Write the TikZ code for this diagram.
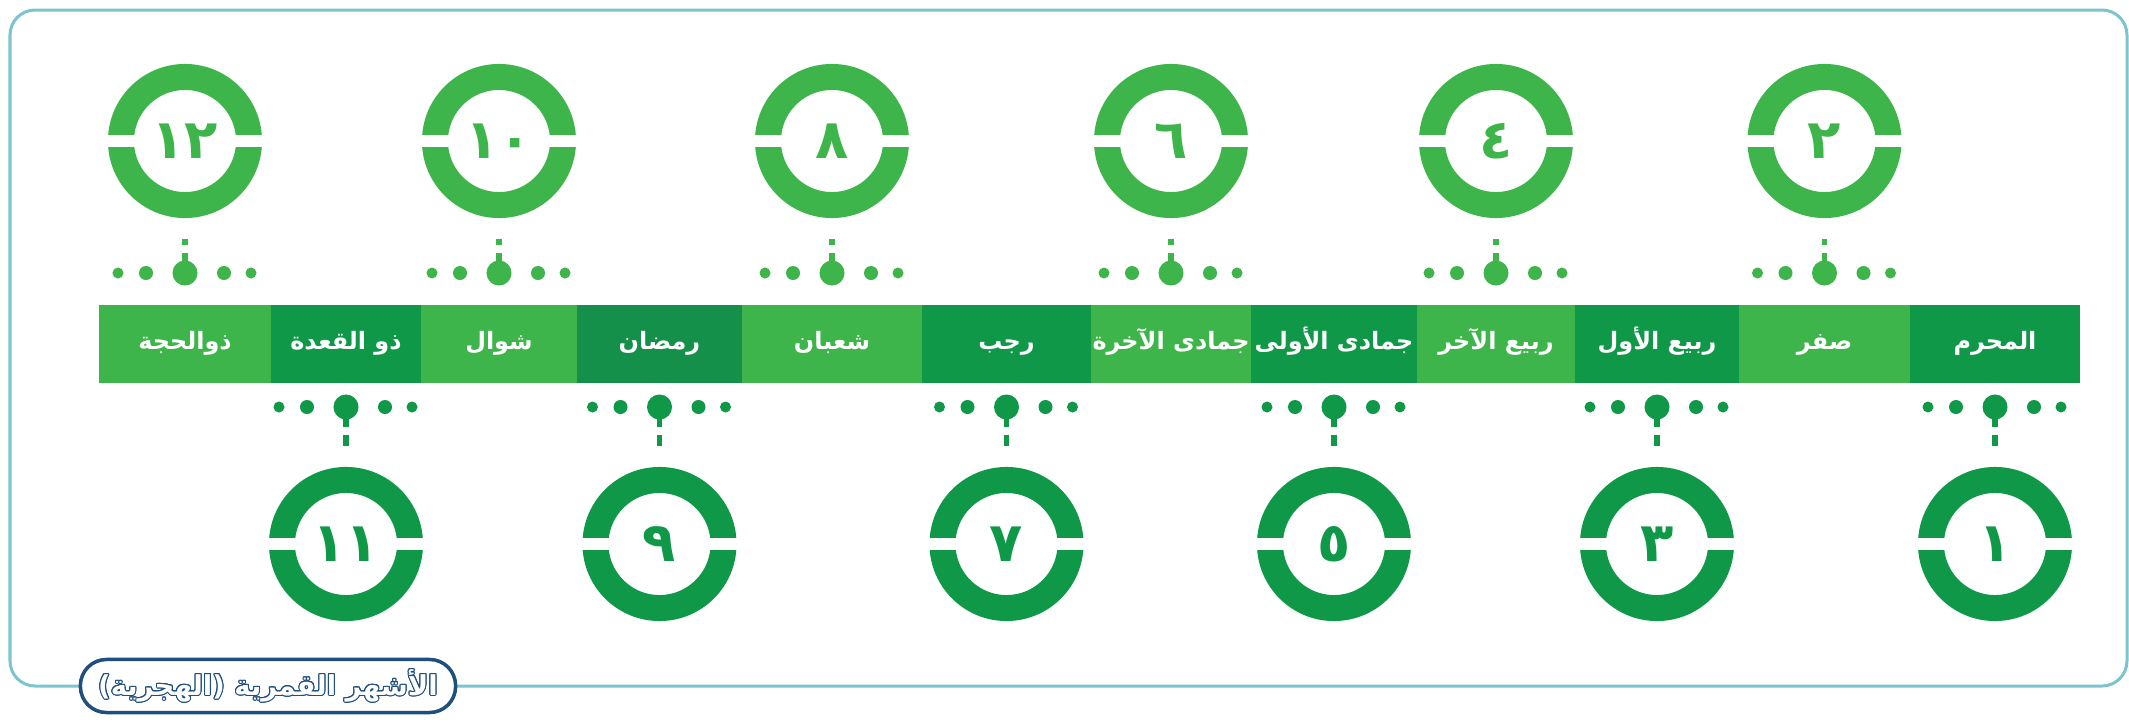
\documentclass[tikz,border=0pt]{standalone}
\usepackage{fontspec}
\usepackage{contour}
\usetikzlibrary{calc}
\TeXXeTstate=1
\newfontfamily\arabicfont[Script=Arabic]{DejaVu Sans}
\definecolor{lightg}{HTML}{3DB54A}
\definecolor{darkg}{HTML}{0E9848}
\definecolor{darkerg}{HTML}{14904A}
\definecolor{frameC}{HTML}{7CC4CE}
\definecolor{navyC}{HTML}{1F4F7F}
\contourlength{0.3pt}
\begin{document}
\begin{tikzpicture}[x=0.01cm,y=-0.01cm,
  segbox/.style={rectangle, inner sep=0pt, minimum height=0.78cm, text=white,
    text height=0.16cm, text depth=0.06cm,
    font=\arabicfont\bfseries\fontsize{6.8}{8}\selectfont},
  ring/.style={circle, inner sep=0pt, minimum size=1.28cm, line width=0.26cm,
    font=\arabicfont\bfseries\fontsize{15.5}{16}\selectfont},
  bigdot/.style={circle, inner sep=0pt, minimum size=0.25cm},
  middot/.style={circle, inner sep=0pt, minimum size=0.14cm},
  smalldot/.style={circle, inner sep=0pt, minimum size=0.11cm},
  conn/.style={line width=0.055cm, dash pattern=on 0.20cm off 0.075cm on 1cm, shorten >=0.21cm},
  pill/.style={draw=navyC, line width=0.035cm, fill=white, rounded corners=0.26cm,
    minimum width=3.75cm, minimum height=0.53cm, inner sep=0pt,
    font=\arabicfont\bfseries\fontsize{7.8}{9}\selectfont}]
\useasboundingbox (0,0) rectangle (2129,724);
\fill[white] (0,0) rectangle (2129,724);
% frame
\draw[frameC, line width=0.03cm, rounded corners=0.25cm] (10,10) rectangle (2127,686);
% months
\foreach \i/\l/\r/\col/\num/\name in {
  1/1910/2080/darkg/{١}/{المحرم},
  2/1739/1910/lightg/{٢}/{صفر},
  3/1575/1739/darkg/{٣}/{ربيع الأول},
  4/1417/1575/lightg/{٤}/{ربيع الآخر},
  5/1251/1417/darkg/{٥}/{جمادى الأولى},
  6/1091/1251/lightg/{٦}/{جمادى الآخرة},
  7/922/1091/darkg/{٧}/{رجب},
  8/742/922/lightg/{٨}/{شعبان},
  9/577/742/darkerg/{٩}/{رمضان},
  10/421/577/lightg/{١٠}/{شوال},
  11/271/421/darkg/{١١}/{ذو القعدة},
  12/99/271/lightg/{١٢}/{ذوالحجة}}{
  \pgfmathsetmacro\cx{(\l+\r)/2}
  \node[segbox, fill=\col, minimum width={(\r-\l)*0.01cm}] (s\i) at (\cx,344) {\beginR\name\endR};
  \ifodd\i
    \def\cc{darkg}\def\cy{544}\def\dy{407}\def\an{north}
  \else
    \def\cc{lightg}\def\cy{141}\def\dy{273}\def\an{south}
  \fi
  \node[ring, draw=\cc, text=\cc] (c\i) at (\cx,\cy) {\num};
  \fill[white] ($(c\i.center)+(-84,-6)$) rectangle ($(c\i.center)+(-48,6)$);
  \fill[white] ($(c\i.center)+(48,-6)$) rectangle ($(c\i.center)+(84,6)$);
  \node[bigdot, fill=\cc] (d\i) at (\cx,\dy) {};
  \node[smalldot, fill=\cc] (da\i) at ($(d\i)+(-67,0)$) {};
  \node[middot, fill=\cc] (db\i) at ($(d\i)+(-39,0)$) {};
  \node[middot, fill=\cc] (dc\i) at ($(d\i)+(39,0)$) {};
  \node[smalldot, fill=\cc] (dd\i) at ($(d\i)+(66,0)$) {};
  \draw[conn, draw=\cc] (d\i.center) -- (c\i.\an);
}
% title
\node[pill] (title) at (268,686) {\contour{navyC}{\textcolor{white}{\beginR الأشهر القمرية (الهجرية)\endR}}};
\end{tikzpicture}
\end{document}
